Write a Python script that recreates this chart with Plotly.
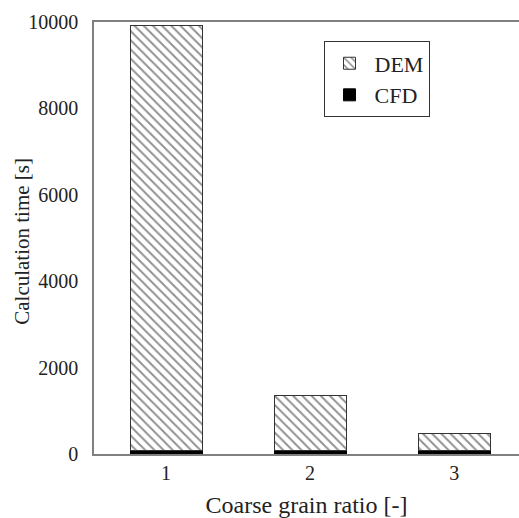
import plotly.graph_objects as go

categories = [1, 2, 3]
dem = [9850, 1265, 400]
cfd = [80, 80, 80]
y_ticks = [0, 2000, 4000, 6000, 8000, 10000]
y_tick_labels = ["0", "2000", "4000", "6000", "8000", "10000"]

font = dict(family="Liberation Serif", size=20, color="#222222")

fig = go.Figure()
fig.add_trace(go.Bar(
    x=categories, y=cfd, name="CFD", width=0.5,
    marker=dict(color="black", line=dict(color="black", width=1)),
))
fig.add_trace(go.Bar(
    x=categories, y=dem, name="DEM", width=0.5,
    marker=dict(color="white", line=dict(color="#333333", width=1),
                pattern=dict(shape="\\", fgcolor="#222222", bgcolor="white", size=6.5, solidity=0.3)),
))

fig.update_layout(
    barmode="stack",
    width=519, height=518,
    margin=dict(l=94, r=0, t=22, b=64),
    paper_bgcolor="white", plot_bgcolor="white",
    font=font,
    legend=dict(x=0.54, y=0.955, xanchor="left", yanchor="top",
                traceorder="reversed", bordercolor="#333333", borderwidth=1,
                bgcolor="white", font=dict(size=22), itemwidth=40,
                tracegroupgap=0),
    xaxis=dict(range=[0.5, 3.45], tickvals=categories, ticktext=[str(c) for c in categories],
               showline=True, linecolor="#808080", linewidth=1.5, mirror=True,
               showgrid=False, zeroline=False, ticks="",
               title=dict(text="Coarse grain ratio [-]", standoff=14)),
    yaxis=dict(range=[0, 10000], tickvals=y_ticks, ticktext=y_tick_labels,
               showline=True, linecolor="#808080", ticklabelstandoff=10,
               linewidth=1.5, showgrid=False, zeroline=False, ticks=""),
    annotations=[dict(text="Calculation time [s]", textangle=-90, xref="paper", yref="paper",
                      x=-0.17, y=0.493, xanchor="center", yanchor="middle", showarrow=False,
                      font=dict(family="Liberation Serif", size=21, color="#222222"))],
)

fig.write_html("out.html")
